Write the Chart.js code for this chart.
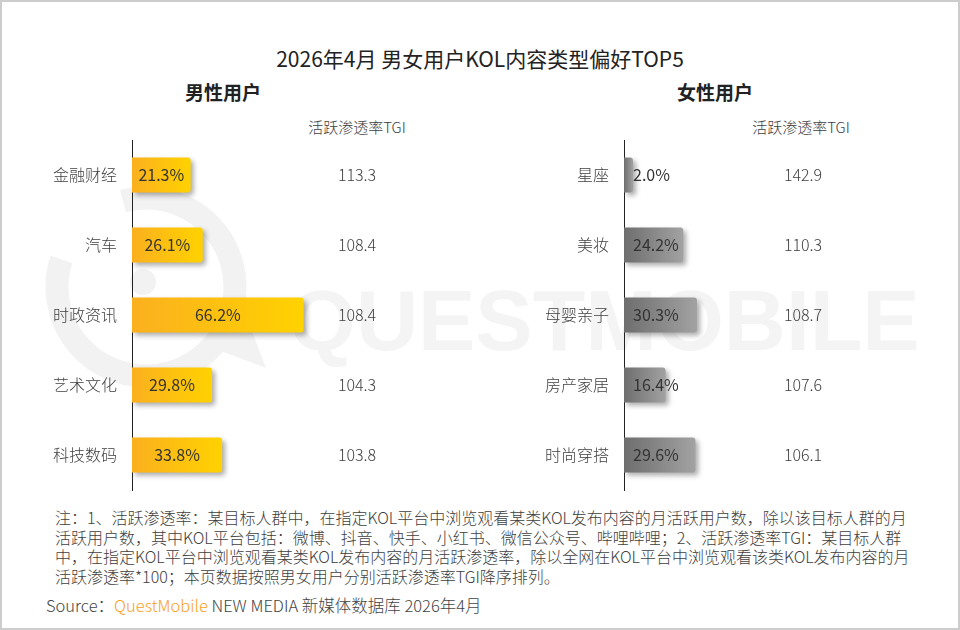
<!DOCTYPE html>
<html>
<head>
<meta charset="utf-8">
<script src="https://cdn.jsdelivr.net/npm/chart.js@4/dist/chart.umd.min.js"></script>
<style>
  html, body { margin:0; padding:0; background:#fff; }
  #page { position:relative; width:960px; height:630px; overflow:hidden; background:#fff;
          font-family:"Noto Sans CJK SC","Microsoft YaHei",sans-serif; color:#404040; }
  .abs { position:absolute; white-space:nowrap; }
  .light { font-weight:300; }
  #frame { position:absolute; left:0; top:0; width:960px; height:630px; box-sizing:border-box; border:2px solid #cdcdcd; pointer-events:none; }
  .wrap { position:absolute; top:130px; width:480px; height:370px; }
</style>
</head>
<body>
<div id="page">
  <svg class="abs" style="left:0;top:0" width="960" height="630">
    <g fill="none" stroke="#f2f2f2">
      <circle cx="146" cy="287" r="89" stroke-width="23" stroke-dasharray="470 90" transform="rotate(-105 146 287)"/>
    </g>
    <circle cx="143" cy="282" r="13" fill="#f2f2f2"/>
    <polygon points="205,345 266,368 240,300" fill="#f2f2f2"/>
    <text x="289" y="350" font-family="Liberation Sans, Arial, sans-serif" font-weight="700" font-size="86" fill="#f4f4f4">QUESTMOBILE</text>
  </svg>

  <div class="abs" style="left:0;width:960px;top:45px;text-align:center;font-size:21px;line-height:26px;color:#222;">2026年4月 男女用户KOL内容类型偏好TOP5</div>
  <div class="abs" style="left:163px;width:120px;top:80px;text-align:center;font-size:19px;line-height:24px;font-weight:700;color:#222;">男性用户</div>
  <div class="abs" style="left:655px;width:120px;top:80px;text-align:center;font-size:19px;line-height:24px;font-weight:700;color:#222;">女性用户</div>
  <div class="abs light" style="left:287px;width:140px;top:117px;text-align:center;font-size:15px;line-height:20px;color:#404040;">活跃渗透率TGI</div>
  <div class="abs light" style="left:731px;width:140px;top:117px;text-align:center;font-size:15px;line-height:20px;color:#404040;">活跃渗透率TGI</div>

  <div class="wrap" style="left:0;"><canvas id="male" width="480" height="370"></canvas></div>
  <div class="wrap" style="left:480px;"><canvas id="female" width="480" height="370"></canvas></div>

  <div class="abs light" style="left:55px;top:508px;font-size:16px;line-height:19.5px;color:#404040;">注：1、活跃渗透率：某目标人群中，在指定KOL平台中浏览观看某类KOL发布内容的月活跃用户数，除以该目标人群的月<br>活跃用户数，其中KOL平台包括：微博、抖音、快手、小红书、微信公众号、哔哩哔哩；2、活跃渗透率TGI：某目标人群<br>中，在指定KOL平台中浏览观看某类KOL发布内容的月活跃渗透率，除以全网在KOL平台中浏览观看该类KOL发布内容的月<br>活跃渗透率*100；本页数据按照男女用户分别活跃渗透率TGI降序排列。</div>
  <div class="abs light" style="left:46px;top:595px;font-size:16.5px;line-height:20px;color:#444;">Source：<span style="color:#F9A01B;">QuestMobile</span> NEW MEDIA 新媒体数据库 2026年4月</div>

  <div id="frame"></div>
</div>

<script>
// ---- data ----
const maleCategories = ['金融财经', '汽车', '时政资讯', '艺术文化', '科技数码'];
const maleRates = [21.3, 26.1, 66.2, 29.8, 33.8];
const maleTGI = [113.3, 108.4, 108.4, 104.3, 103.8];

const femaleCategories = ['星座', '美妆', '母婴亲子', '房产家居', '时尚穿搭'];
const femaleRates = [2.0, 24.2, 30.3, 16.4, 29.6];
const femaleTGI = [142.9, 110.3, 108.7, 107.6, 106.1];

const AXIS_MIN = -2;
const AXIS_MAX = 100;
const FONT = '"Noto Sans CJK SC","Microsoft YaHei",sans-serif';

function makeChart(id, cats, rates, tgi, cfg) {
  const shadowPlugin = {
    id: 'shadow_' + id,
    beforeDatasetsDraw(chart) {
      const c = chart.ctx;
      c.save();
      c.shadowColor = 'rgba(0,0,0,0.32)';
      c.shadowBlur = 5;
      c.shadowOffsetX = 3;
      c.shadowOffsetY = 3;
    },
    afterDatasetsDraw(chart) {
      chart.ctx.restore();
    }
  };
  const labelPlugin = {
    id: 'labels_' + id,
    afterDatasetsDraw(chart) {
      const c = chart.ctx;
      const meta = chart.getDatasetMeta(0);
      c.save();
      c.textBaseline = 'middle';
      meta.data.forEach((bar, i) => {
        c.font = '16px ' + FONT;
        c.fillStyle = '#333';
        const txt = rates[i].toFixed(1) + '%';
        if (cfg.labelAlign === 'center') {
          c.textAlign = 'center';
          c.fillText(txt, (bar.x + bar.base) / 2, bar.y);
        } else {
          c.textAlign = 'left';
          c.fillText(txt, bar.base + 9, bar.y);
        }
        c.font = '300 16px ' + FONT;
        c.textAlign = 'center';
        c.fillStyle = '#404040';
        c.fillText(tgi[i].toFixed(1), cfg.tgiX, bar.y);
      });
      c.restore();
    }
  };

  return new Chart(document.getElementById(id), {
    type: 'bar',
    data: {
      labels: cats,
      datasets: [{
        data: rates,
        base: AXIS_MIN,
        barPercentage: 0.5,
        categoryPercentage: 1.0,
        borderRadius: 3,
        borderSkipped: 'start',
        backgroundColor: (ctx) => {
          const chart = ctx.chart;
          if (!chart.chartArea || ctx.raw === undefined) return cfg.c1;
          const xs = chart.scales.x;
          const x0 = xs.getPixelForValue(AXIS_MIN);
          const x1 = xs.getPixelForValue(ctx.raw);
          const g = chart.ctx.createLinearGradient(x0, 0, Math.max(x1, x0 + 1), 0);
          g.addColorStop(0, cfg.c0);
          g.addColorStop(1, cfg.c1);
          return g;
        }
      }]
    },
    options: {
      indexAxis: 'y',
      responsive: false,
      animation: false,
      devicePixelRatio: 1,
      layout: { padding: { top: 10, bottom: 10, left: 0, right: cfg.padRight } },
      plugins: { legend: { display: false }, tooltip: { enabled: false } },
      scales: {
        x: { display: false, min: AXIS_MIN, max: AXIS_MAX },
        y: {
          grid: { display: false, drawTicks: false },
          border: { display: true, color: '#222', width: 1 },
          ticks: { color: '#404040', font: { size: 16, family: FONT, weight: 300 }, padding: 15 },
          afterFit: (s) => { s.width = cfg.axisX; s.paddingTop = 0; s.paddingBottom = 0; }
        }
      }
    },
    plugins: [shadowPlugin, labelPlugin]
  });
}

makeChart('male', maleCategories, maleRates, maleTGI, {
  axisX: 132, padRight: 480 - 132 - (AXIS_MAX - AXIS_MIN) * 2.517,
  c0: '#FBB01F', c1: '#FFD200', labelAlign: 'center', tgiX: 357
});
makeChart('female', femaleCategories, femaleRates, femaleTGI, {
  axisX: 144, padRight: 480 - 144 - (AXIS_MAX - AXIS_MIN) * 2.26,
  c0: '#6E6E6E', c1: '#A2A2A2', labelAlign: 'left', tgiX: 323
});
</script>
</body>
</html>
